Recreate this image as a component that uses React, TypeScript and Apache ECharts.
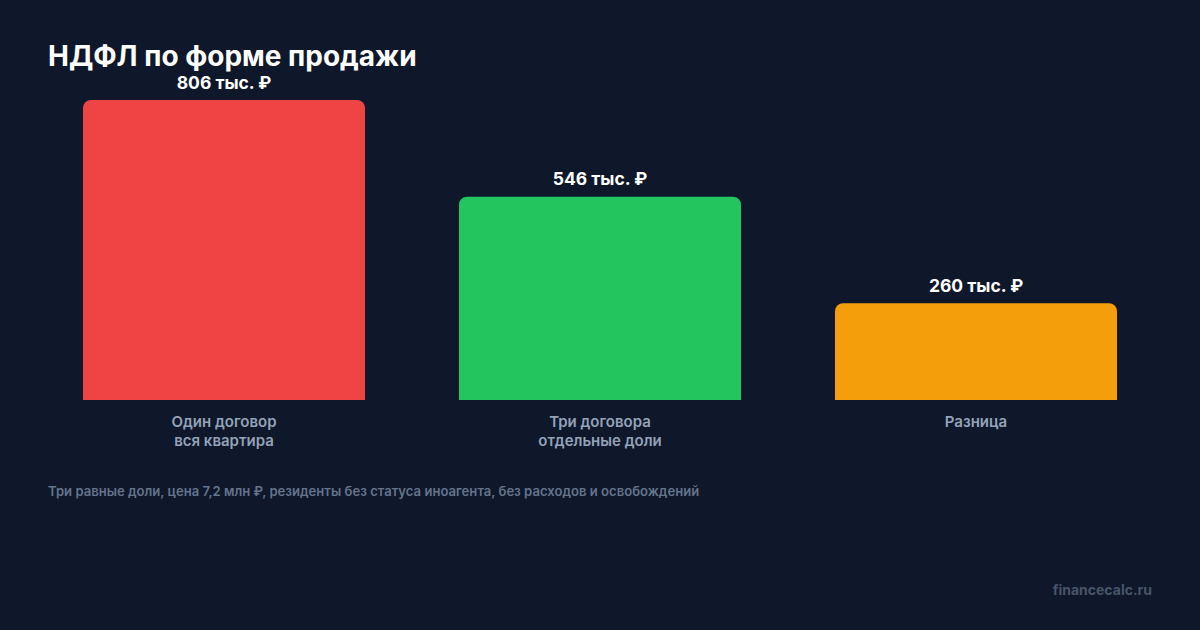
import { useEffect, useRef } from "react";
import * as echarts from "echarts";

const categories = ["Один договор\nвся квартира", "Три договора\nотдельные доли", "Разница"];
const values = [806, 546, 260];
const barColors = ["#ef4444", "#22c55e", "#f59e0b"];

const FONT = "Inter, 'Noto Sans', sans-serif";

export default function App() {
  const chartRef = useRef<HTMLDivElement | null>(null);

  useEffect(() => {
    document.body.style.margin = "0";
    if (!chartRef.current) {
      return;
    }

    const chart = echarts.init(chartRef.current, null, { renderer: "svg" });

    chart.setOption({
      animation: false,
      backgroundColor: "#0f172a",
      title: {
        text: "НДФЛ по форме продажи",
        left: 48,
        top: 43,
        padding: 0,
        textStyle: {
          color: "#ffffff",
          fontSize: 28,
          fontWeight: 700,
          fontFamily: FONT,
          lineHeight: 26,
        },
      },
      grid: { left: 36, right: 36, top: 100, bottom: 230 },
      xAxis: {
        type: "category",
        data: categories,
        axisLine: { show: false },
        axisTick: { show: false },
        axisLabel: {
          color: "#94a3b8",
          fontSize: 15,
          fontWeight: 600,
          fontFamily: FONT,
          lineHeight: 19,
          margin: 12,
        },
      },
      yAxis: { type: "value", min: 0, max: 806, show: false, splitLine: { show: false } },
      series: [
        {
          type: "bar",
          barCategoryGap: "25%",
          data: values.map((v, i) => ({
            value: v,
            itemStyle: { color: barColors[i], borderRadius: [8, 8, 0, 0] },
          })),
          label: {
            show: true,
            position: "top",
            distance: 9,
            color: "#ffffff",
            fontSize: 17.5,
            fontWeight: 700,
            fontFamily: FONT,
            lineHeight: 18,
            formatter: (p: { value: number }) => `${p.value} тыс. ₽`,
          },
        },
      ],
      graphic: [
        {
          type: "text",
          left: 48,
          top: 484,
          style: {
            text: "Три равные доли, цена 7,2 млн ₽, резиденты без статуса иноагента, без расходов и освобождений",
            fill: "#64748b",
            fontSize: 13.1,
            fontWeight: 600,
            fontFamily: FONT,
          },
        },
        {
          type: "text",
          right: 48,
          top: 582,
          style: {
            text: "financecalc.ru",
            fill: "#475569",
            fontSize: 14,
            fontWeight: 700,
            fontFamily: FONT,
          },
        },
      ],
    });

    return () => {
      chart.dispose();
    };
  }, []);

  return <div ref={chartRef} style={{ width: 1200, height: 630 }} />;
}
